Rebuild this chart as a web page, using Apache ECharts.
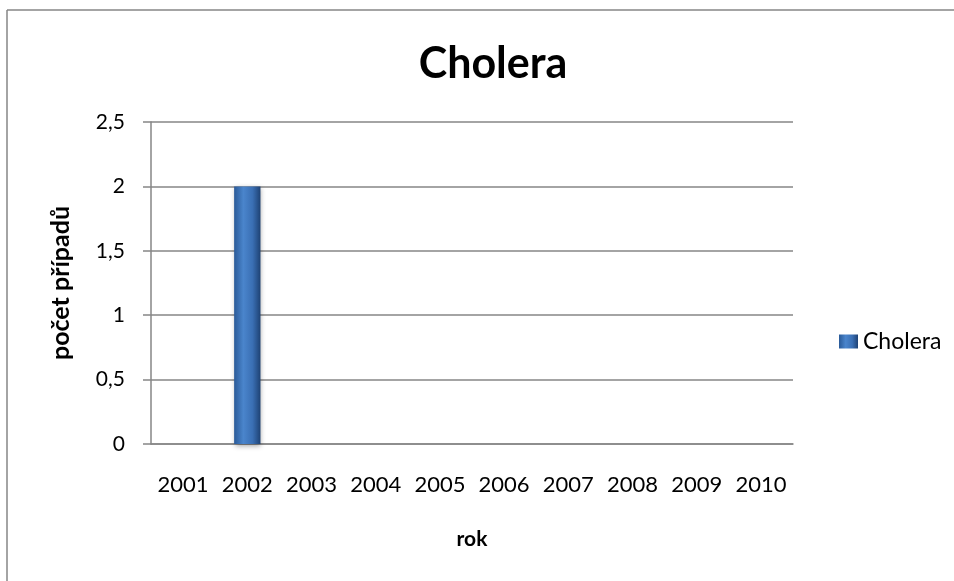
<!DOCTYPE html>
<html>
<head>
<meta charset="utf-8">
<script src="https://cdn.jsdelivr.net/npm/echarts@6/dist/echarts.min.js"></script>
<style>html,body{margin:0;padding:0;background:#fff;}#c{width:954px;height:581px;}</style>
</head>
<body>
<div id="c"></div>
<script>
const categories = ['2001','2002','2003','2004','2005','2006','2007','2008','2009','2010'];
const choleraValues = [0, 2, 0, 0, 0, 0, 0, 0, 0, 0];
const yTicks = [0, 0.5, 1, 1.5, 2, 2.5];
const seriesName = 'Cholera';
const titleText = 'Cholera';
const xAxisName = 'rok';
const yAxisName = 'počet případů';

const FONT = 'Lato, "Open Sans", "Noto Sans", sans-serif';
const chart = echarts.init(document.getElementById('c'), null, {renderer: 'canvas'});
const barGrad = new echarts.graphic.LinearGradient(0, 0, 1, 0, [
  {offset: 0, color: '#2a5a98'},
  {offset: 0.35, color: '#4a85cc'},
  {offset: 0.7, color: '#3a6fb4'},
  {offset: 1, color: '#1e4274'}
]);
chart.setOption({
  animation: false,
  backgroundColor: '#fff',
  graphic: [
    {type: 'line', silent: true, shape: {x1: 7, y1: 10, x2: 960, y2: 10}, style: {stroke: '#868686', lineWidth: 1.5}},
    {type: 'line', silent: true, shape: {x1: 7, y1: 10, x2: 7, y2: 600}, style: {stroke: '#868686', lineWidth: 1.5}}
  ],
  title: {
    text: titleText, left: 488, top: 38, textAlign: 'center',
    textStyle: {fontFamily: FONT, fontSize: 43, fontWeight: 'bold', color: '#000'}
  },
  legend: {
    data: [{name: seriesName, icon: 'rect'}],
    left: 834, top: 325, itemWidth: 19, itemHeight: 14, itemGap: 5,
    textStyle: {fontFamily: FONT, fontSize: 23, color: '#000'}
  },
  grid: {left: 151, right: 161, top: 122, bottom: 137, containLabel: false},
  xAxis: {
    type: 'category', data: categories,
    name: xAxisName, nameLocation: 'middle', nameGap: 85,
    nameTextStyle: {fontFamily: FONT, fontSize: 21, fontWeight: 'bold', color: '#000'},
    axisLine: {show: true, lineStyle: {color: '#868686', width: 1.5}},
    axisTick: {show: false},
    axisLabel: {fontFamily: FONT, fontSize: 22, color: '#000', margin: 30, interval: 0}
  },
  yAxis: {
    type: 'value', min: yTicks[0], max: yTicks[yTicks.length - 1], interval: 0.5,
    name: yAxisName, nameLocation: 'middle', nameGap: 78, nameRotate: 90,
    nameTextStyle: {fontFamily: FONT, fontSize: 25, fontWeight: 'bold', color: '#000'},
    axisLine: {show: true, lineStyle: {color: '#868686', width: 1.5}},
    axisTick: {show: true, length: 8, lineStyle: {color: '#868686', width: 1.5}},
    axisLabel: {fontFamily: FONT, fontSize: 21, color: '#000', margin: 26,
      formatter: v => String(v).replace('.', ',')},
    splitLine: {show: true, lineStyle: {color: '#868686', width: 1.5}}
  },
  series: [{
    name: seriesName, type: 'bar', data: choleraValues,
    barWidth: '41%',
    itemStyle: {color: barGrad, shadowColor: 'rgba(0,0,0,0.35)', shadowBlur: 5, shadowOffsetX: 1, shadowOffsetY: 2}
  }]
});
</script>
</body>
</html>
